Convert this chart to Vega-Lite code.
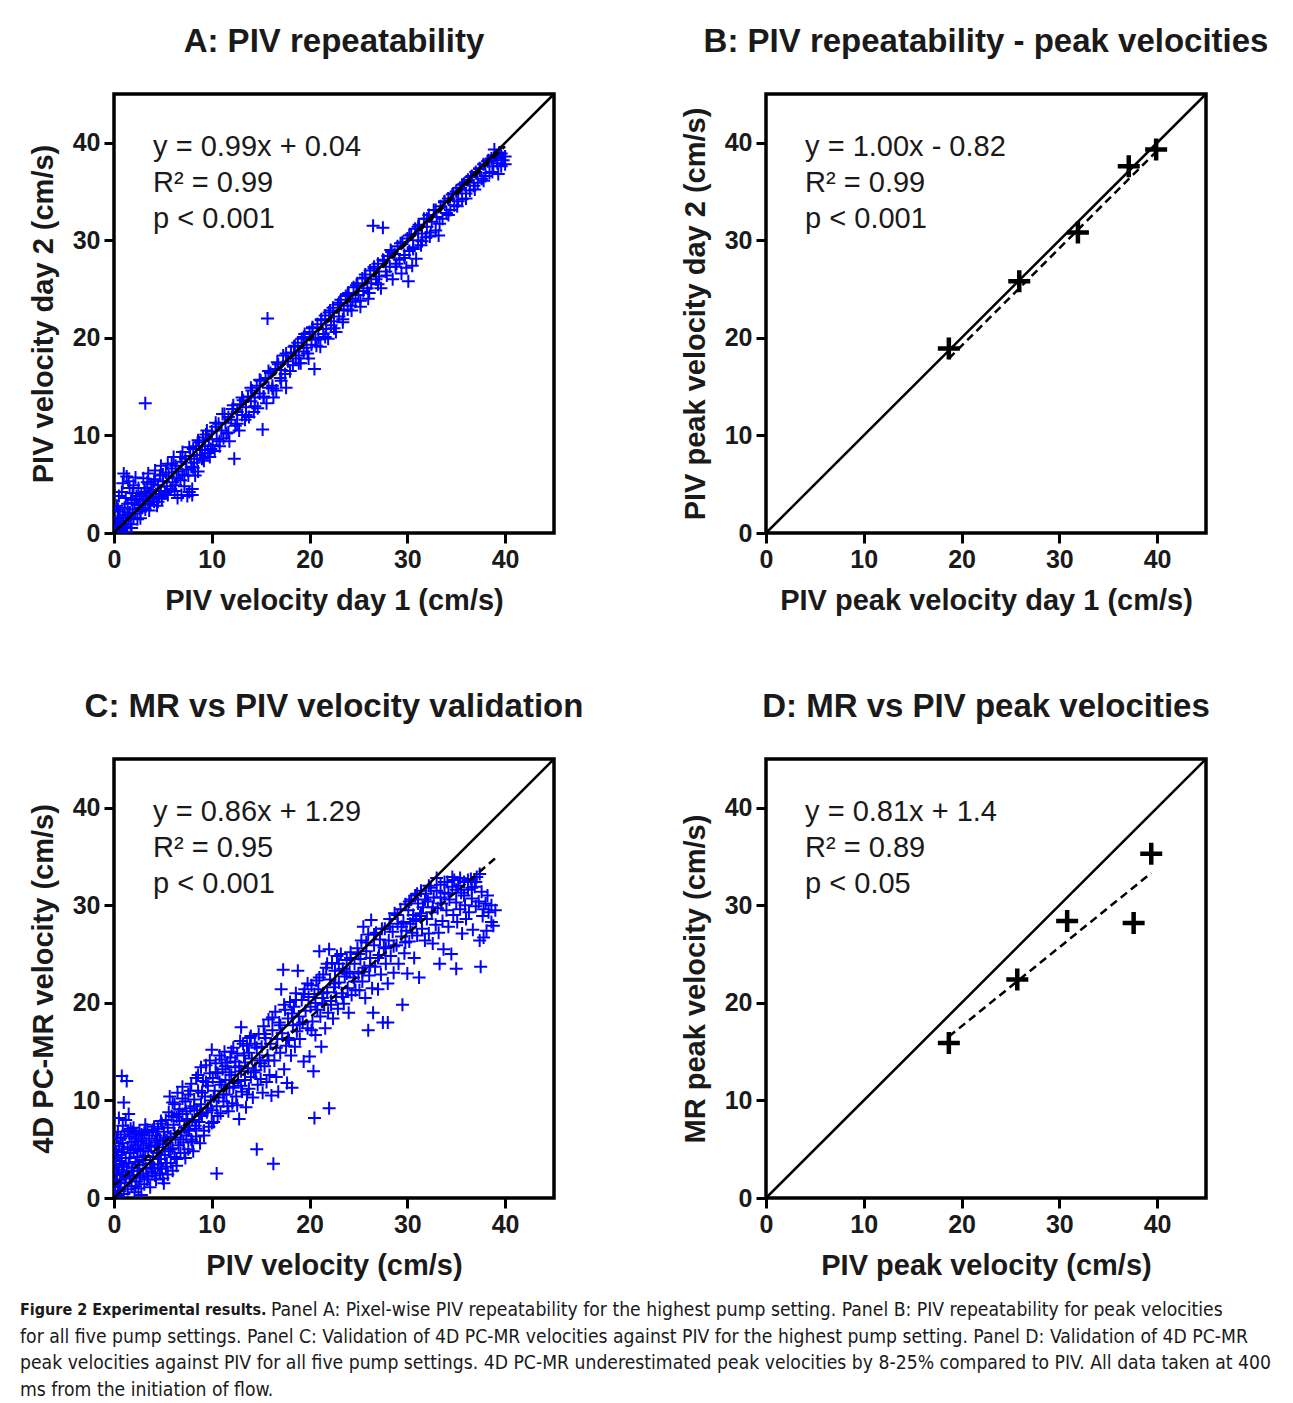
{
  "$schema": "https://vega.github.io/schema/vega-lite/v6.json",
  "background": "white",
  "padding": {"left": 20, "top": 24, "right": 10, "bottom": 5},
  "datasets": {
    "a": [
      {"x":0.1,"y":0.3},{"x":0.2,"y":0.8},{"x":0.3,"y":0.1},{"x":0.4,"y":1.5},{"x":0.5,"y":0.6},{"x":0.6,"y":2.2},{"x":0.7,"y":1.0},{"x":0.8,"y":0.3},{"x":0.9,"y":1.8},{"x":1.0,"y":0.7},{"x":1.1,"y":2.6},{"x":1.2,"y":1.3},{"x":1.3,"y":0.5},{"x":1.4,"y":3.0},{"x":1.5,"y":1.6},{"x":1.6,"y":2.1},{"x":1.7,"y":0.9},{"x":1.8,"y":3.4},{"x":1.9,"y":2.4},{"x":2.0,"y":1.5},{"x":2.1,"y":3.1},{"x":2.2,"y":2.0},{"x":2.3,"y":3.8},{"x":2.4,"y":1.4},{"x":2.5,"y":2.9},{"x":2.6,"y":3.5},{"x":2.7,"y":2.2},{"x":2.8,"y":4.0},{"x":2.9,"y":2.6},{"x":3.0,"y":3.3},{"x":0.3,"y":2.8},{"x":0.5,"y":3.8},{"x":1.0,"y":6.1},{"x":1.3,"y":5.8},{"x":0.8,"y":4.2},{"x":1.6,"y":4.6},{"x":2.0,"y":4.9},{"x":0.0,"y":0.0},{"x":0.2,"y":-0.3},{"x":0.6,"y":-0.2},{"x":1.1,"y":0.0},{"x":3.2,"y":13.3},
      {"x":3.1,"y":4.6},{"x":3.2,"y":2.4},{"x":3.3,"y":3.8},{"x":3.4,"y":5.2},{"x":3.5,"y":3.0},{"x":3.6,"y":4.1},{"x":3.7,"y":2.9},{"x":3.8,"y":5.0},{"x":3.9,"y":3.6},{"x":4.0,"y":4.4},{"x":4.1,"y":3.2},{"x":4.2,"y":5.5},{"x":4.3,"y":4.0},{"x":4.4,"y":2.8},{"x":4.5,"y":4.9},{"x":4.6,"y":3.7},{"x":4.7,"y":5.9},{"x":4.8,"y":4.3},{"x":4.9,"y":3.5},{"x":5.0,"y":5.3},{"x":5.2,"y":4.1},{"x":5.3,"y":6.2},{"x":5.4,"y":4.8},{"x":5.5,"y":3.9},{"x":5.6,"y":5.8},{"x":5.8,"y":4.5},{"x":5.9,"y":6.6},{"x":6.0,"y":5.2},{"x":6.2,"y":4.3},{"x":6.3,"y":6.9},{"x":6.4,"y":5.6},{"x":6.5,"y":3.6},{"x":6.6,"y":6.3},{"x":6.8,"y":5.4},{"x":6.9,"y":7.3},{"x":7.0,"y":6.0},{"x":7.2,"y":4.8},{"x":7.3,"y":7.6},{"x":7.4,"y":6.5},{"x":7.5,"y":3.8},{"x":7.6,"y":5.9},{"x":7.8,"y":7.9},{"x":7.9,"y":6.8},{"x":8.0,"y":4.5},{"x":8.0,"y":3.9},
      {"x":8.1,"y":8.6},{"x":8.2,"y":7.2},{"x":8.3,"y":5.9},{"x":8.4,"y":8.9},{"x":8.5,"y":7.6},{"x":8.6,"y":6.3},{"x":8.7,"y":9.3},{"x":8.8,"y":8.0},{"x":9.0,"y":8.5},{"x":9.1,"y":9.8},{"x":9.2,"y":7.4},{"x":9.3,"y":8.9},{"x":9.4,"y":10.1},{"x":9.6,"y":8.2},{"x":9.7,"y":9.6},{"x":9.8,"y":7.8},{"x":10.0,"y":10.4},{"x":10.1,"y":9.0},{"x":10.3,"y":8.4},{"x":10.4,"y":10.9},{"x":10.5,"y":9.6},{"x":10.7,"y":11.2},{"x":10.8,"y":8.9},{"x":11.0,"y":10.5},{"x":11.1,"y":12.2},{"x":11.2,"y":9.7},{"x":11.4,"y":11.3},{"x":11.5,"y":10.2},{"x":11.7,"y":11.9},{"x":11.8,"y":9.4},{"x":12.0,"y":11.6},{"x":12.1,"y":12.7},{"x":12.3,"y":7.6},{"x":12.4,"y":11.0},{"x":12.6,"y":12.4},{"x":12.8,"y":10.5},{"x":12.9,"y":13.2},
      {"x":13.1,"y":12.1},{"x":13.2,"y":13.6},{"x":13.4,"y":11.6},{"x":13.5,"y":12.9},{"x":13.7,"y":14.0},{"x":13.8,"y":11.9},{"x":14.0,"y":13.5},{"x":14.1,"y":14.6},{"x":14.3,"y":12.4},{"x":14.4,"y":13.9},{"x":14.6,"y":15.1},{"x":14.7,"y":12.8},{"x":14.9,"y":14.3},{"x":15.0,"y":15.6},{"x":15.2,"y":10.6},{"x":15.3,"y":14.0},{"x":15.5,"y":15.9},{"x":15.6,"y":13.3},{"x":15.7,"y":22.0},{"x":15.8,"y":14.9},{"x":16.0,"y":16.4},{"x":16.2,"y":15.1},{"x":16.3,"y":13.9},{"x":16.5,"y":16.8},{"x":16.6,"y":14.6},{"x":16.8,"y":17.3},{"x":17.0,"y":15.9},{"x":17.1,"y":16.7},{"x":17.3,"y":18.2},{"x":17.5,"y":16.3},{"x":17.6,"y":14.9},{"x":17.8,"y":17.6},{"x":18.0,"y":16.6},
      {"x":18.1,"y":18.5},{"x":18.3,"y":17.2},{"x":18.4,"y":19.1},{"x":18.6,"y":17.9},{"x":18.8,"y":19.5},{"x":18.9,"y":18.2},{"x":19.1,"y":17.4},{"x":19.2,"y":19.9},{"x":19.4,"y":18.6},{"x":19.5,"y":20.4},{"x":19.7,"y":19.0},{"x":19.9,"y":17.9},{"x":20.0,"y":20.6},{"x":20.2,"y":19.3},{"x":20.3,"y":21.1},{"x":20.5,"y":16.8},{"x":20.6,"y":19.8},{"x":20.8,"y":21.4},{"x":20.9,"y":20.0},{"x":21.1,"y":19.1},{"x":21.2,"y":21.8},{"x":21.4,"y":20.4},{"x":21.6,"y":22.3},{"x":21.7,"y":20.9},{"x":21.9,"y":19.9},{"x":22.0,"y":22.6},{"x":22.2,"y":21.3},{"x":22.4,"y":23.1},{"x":22.5,"y":21.7},{"x":22.7,"y":20.6},{"x":22.9,"y":23.4},{"x":23.0,"y":22.2},{"x":23.2,"y":23.9},{"x":23.4,"y":21.6},{"x":23.5,"y":22.8},{"x":23.7,"y":24.3},{"x":23.9,"y":22.9},
      {"x":24.0,"y":24.6},{"x":24.2,"y":23.3},{"x":24.4,"y":24.0},{"x":24.5,"y":25.2},{"x":24.7,"y":23.7},{"x":24.9,"y":25.6},{"x":25.0,"y":24.4},{"x":25.2,"y":23.2},{"x":25.4,"y":26.1},{"x":25.5,"y":24.8},{"x":25.7,"y":26.5},{"x":25.9,"y":25.1},{"x":26.0,"y":24.0},{"x":26.2,"y":26.9},{"x":26.3,"y":25.6},{"x":26.5,"y":31.5},{"x":26.6,"y":27.3},{"x":26.8,"y":26.0},{"x":27.0,"y":27.6},{"x":27.1,"y":26.3},{"x":27.3,"y":25.1},{"x":27.5,"y":31.3},{"x":27.6,"y":27.9},{"x":27.8,"y":26.8},{"x":28.0,"y":28.4},{"x":28.2,"y":27.3},{"x":28.3,"y":29.0},{"x":28.5,"y":26.0},{"x":28.7,"y":28.6},{"x":28.9,"y":27.6},{"x":29.0,"y":29.4},{"x":29.2,"y":28.0},{"x":29.4,"y":26.6},{"x":29.5,"y":29.8},{"x":29.7,"y":28.5},{"x":29.9,"y":27.2},
      {"x":30.0,"y":30.2},{"x":30.1,"y":25.8},{"x":30.2,"y":28.9},{"x":30.4,"y":30.6},{"x":30.5,"y":27.4},{"x":30.6,"y":29.3},{"x":30.8,"y":31.2},{"x":30.9,"y":28.1},{"x":31.1,"y":30.0},{"x":31.2,"y":31.6},{"x":31.4,"y":29.5},{"x":31.5,"y":30.7},{"x":31.7,"y":32.2},{"x":31.9,"y":30.3},{"x":32.0,"y":31.4},{"x":32.2,"y":32.6},{"x":32.3,"y":30.4},{"x":32.5,"y":31.9},{"x":32.7,"y":33.1},{"x":32.9,"y":31.0},{"x":33.0,"y":32.4},{"x":33.2,"y":30.5},{"x":33.4,"y":33.5},{"x":33.6,"y":32.2},{"x":33.8,"y":33.9},{"x":34.0,"y":32.8},{"x":34.2,"y":34.3},{"x":34.4,"y":33.1},{"x":34.6,"y":34.7},{"x":34.8,"y":33.6},{"x":35.0,"y":35.0},{"x":35.2,"y":34.0},{"x":35.4,"y":35.4},{"x":35.6,"y":34.2},{"x":35.8,"y":35.8},{"x":36.0,"y":34.8},{"x":36.2,"y":36.2},{"x":36.4,"y":35.1},{"x":36.6,"y":36.6},{"x":36.8,"y":35.6},{"x":37.0,"y":37.0},{"x":37.2,"y":35.9},{"x":37.4,"y":37.4},{"x":37.6,"y":36.3},{"x":37.8,"y":37.8},{"x":38.0,"y":36.6},{"x":38.2,"y":38.1},{"x":38.4,"y":36.9},{"x":38.6,"y":38.4},{"x":38.8,"y":37.6},{"x":39.0,"y":38.7},{"x":39.2,"y":37.9},{"x":39.4,"y":39.0},{"x":39.6,"y":37.6},{"x":39.8,"y":38.2},{"x":40.0,"y":37.8},{"x":38.9,"y":39.3},{"x":39.3,"y":36.8},
      {"x":0.5,"y":1.6},{"x":0.9,"y":0.1},{"x":1.4,"y":1.9},{"x":1.8,"y":0.5},{"x":2.3,"y":3.4},{"x":2.7,"y":1.5},{"x":3.2,"y":4.2},{"x":3.6,"y":2.3},{"x":4.1,"y":5.3},{"x":4.5,"y":3.2},{"x":5.0,"y":6.0},{"x":5.4,"y":4.2},{"x":5.9,"y":7.1},{"x":6.3,"y":4.9},{"x":6.8,"y":7.8},{"x":7.2,"y":5.9},{"x":7.7,"y":8.8},{"x":8.1,"y":6.7},{"x":8.6,"y":9.5},{"x":9.0,"y":7.6},{"x":9.5,"y":10.5},{"x":9.9,"y":8.6},{"x":10.4,"y":11.3},{"x":10.8,"y":9.4},{"x":11.3,"y":12.2},{"x":11.7,"y":10.3},{"x":12.2,"y":13.1},{"x":12.6,"y":11.2},{"x":13.1,"y":13.9},{"x":13.5,"y":12.1},{"x":14.0,"y":14.9},{"x":14.4,"y":13.0},{"x":14.9,"y":15.7},{"x":15.3,"y":13.9},{"x":15.8,"y":16.6},{"x":16.2,"y":14.8},{"x":16.7,"y":17.5},{"x":17.1,"y":15.6},{"x":17.6,"y":18.4},{"x":18.0,"y":16.6},{"x":18.5,"y":19.2},{"x":18.9,"y":17.4},{"x":19.4,"y":20.1},{"x":19.8,"y":18.4},{"x":20.3,"y":21.0},{"x":20.7,"y":19.2},{"x":21.2,"y":21.9},{"x":21.6,"y":20.1},{"x":22.1,"y":22.8},{"x":22.5,"y":21.0},{"x":23.0,"y":23.6},{"x":23.4,"y":21.9},{"x":23.9,"y":24.5},{"x":24.3,"y":22.8},{"x":24.8,"y":25.4},{"x":25.2,"y":23.8},{"x":25.7,"y":26.2},{"x":26.1,"y":24.6},{"x":26.6,"y":27.1},{"x":27.0,"y":25.5},{"x":27.5,"y":28.0},{"x":27.9,"y":26.4},{"x":28.4,"y":28.8},{"x":28.8,"y":27.3},{"x":29.3,"y":29.7},{"x":29.7,"y":28.2},{"x":30.2,"y":30.5},{"x":30.6,"y":29.1},{"x":31.1,"y":31.4},{"x":31.5,"y":29.9},{"x":32.0,"y":32.2},{"x":32.4,"y":30.8},{"x":32.9,"y":33.1},{"x":33.3,"y":31.7},{"x":33.8,"y":34.0},{"x":34.2,"y":32.6},{"x":34.7,"y":34.8},{"x":35.1,"y":33.5},{"x":35.6,"y":35.7},{"x":36.0,"y":34.3},{"x":36.5,"y":36.5},{"x":36.9,"y":35.2},{"x":37.4,"y":37.3},{"x":37.8,"y":36.1},{"x":38.3,"y":38.2},{"x":38.7,"y":37.0},{"x":39.2,"y":38.4},{"x":39.6,"y":38.9},{"x":40.0,"y":38.6},
      {"x":0.4,"y":2.4},{"x":1.2,"y":3.6},{"x":1.9,"y":4.1},{"x":2.5,"y":4.6},{"x":3.0,"y":5.6},{"x":3.5,"y":6.1},{"x":4.2,"y":6.4},{"x":0.9,"y":5.1},{"x":1.5,"y":5.3},{"x":2.2,"y":5.7},{"x":4.8,"y":6.9},{"x":5.5,"y":7.1},{"x":6.1,"y":7.8},{"x":7.0,"y":8.3},{"x":7.7,"y":4.2},{"x":6.9,"y":3.9}
    ],
    "c": [
      {"x":0.1,"y":0.5},{"x":0.2,"y":1.8},{"x":0.2,"y":3.5},{"x":0.3,"y":0.2},{"x":0.3,"y":2.6},{"x":0.4,"y":4.4},{"x":0.4,"y":1.1},{"x":0.5,"y":5.3},{"x":0.5,"y":2.9},{"x":0.6,"y":0.7},{"x":0.6,"y":3.8},{"x":0.7,"y":6.1},{"x":0.7,"y":1.9},{"x":0.8,"y":4.7},{"x":0.8,"y":12.5},{"x":0.9,"y":2.4},{"x":0.9,"y":5.6},{"x":1.0,"y":0.4},{"x":1.0,"y":3.2},{"x":1.0,"y":9.8},{"x":1.1,"y":6.5},{"x":1.1,"y":1.6},{"x":1.2,"y":4.1},{"x":1.2,"y":8.0},{"x":1.3,"y":2.7},{"x":1.3,"y":12.0},{"x":1.4,"y":5.2},{"x":1.4,"y":0.9},{"x":1.5,"y":3.6},{"x":1.5,"y":8.6},{"x":1.6,"y":6.3},{"x":1.6,"y":2.0},{"x":1.7,"y":4.6},{"x":1.7,"y":7.1},{"x":1.8,"y":1.2},{"x":1.8,"y":5.7},{"x":1.9,"y":3.1},{"x":1.9,"y":6.8},{"x":2.0,"y":2.3},{"x":2.0,"y":4.9},{"x":2.1,"y":0.6},{"x":2.1,"y":6.1},{"x":2.2,"y":3.7},{"x":2.2,"y":5.4},{"x":2.3,"y":1.7},{"x":2.3,"y":6.6},{"x":2.4,"y":4.2},{"x":2.4,"y":2.8},{"x":2.5,"y":5.8},{"x":2.5,"y":1.0},{"x":2.6,"y":3.4},{"x":2.6,"y":6.9},{"x":2.7,"y":2.1},{"x":2.7,"y":4.8},{"x":2.8,"y":5.9},{"x":2.8,"y":0.3},{"x":2.9,"y":3.9},{"x":2.9,"y":6.4},{"x":3.0,"y":2.5},{"x":3.0,"y":5.1},{"x":0.5,"y":8.2},{"x":0.9,"y":7.4},{"x":0.3,"y":6.2},
      {"x":3.1,"y":6.7},{"x":3.1,"y":1.4},{"x":3.2,"y":4.3},{"x":3.3,"y":3.0},{"x":3.3,"y":5.6},{"x":3.4,"y":7.0},{"x":3.5,"y":2.2},{"x":3.5,"y":4.8},{"x":3.6,"y":6.1},{"x":3.7,"y":3.5},{"x":3.7,"y":1.1},{"x":3.8,"y":5.3},{"x":3.9,"y":6.8},{"x":3.9,"y":2.7},{"x":4.0,"y":4.2},{"x":4.1,"y":7.3},{"x":4.1,"y":3.1},{"x":4.2,"y":5.7},{"x":4.3,"y":1.9},{"x":4.3,"y":6.4},{"x":4.4,"y":4.6},{"x":4.5,"y":3.4},{"x":4.5,"y":7.1},{"x":4.6,"y":5.2},{"x":4.7,"y":2.5},{"x":4.7,"y":6.0},{"x":4.8,"y":4.0},{"x":4.9,"y":7.6},{"x":4.9,"y":3.0},{"x":5.0,"y":5.5},{"x":5.1,"y":1.5},{"x":5.1,"y":6.8},{"x":5.2,"y":4.4},{"x":5.3,"y":3.2},{"x":5.3,"y":8.0},{"x":5.4,"y":5.9},{"x":5.5,"y":2.4},{"x":5.5,"y":7.2},{"x":5.6,"y":4.8},{"x":5.7,"y":10.4},{"x":5.8,"y":6.3},{"x":5.8,"y":3.6},{"x":5.9,"y":8.4},{"x":6.0,"y":5.1},{"x":6.0,"y":2.8},
      {"x":6.1,"y":7.5},{"x":6.2,"y":9.6},{"x":6.2,"y":4.2},{"x":6.3,"y":6.2},{"x":6.4,"y":8.3},{"x":6.4,"y":3.3},{"x":6.5,"y":10.8},{"x":6.6,"y":5.4},{"x":6.7,"y":7.9},{"x":6.7,"y":9.1},{"x":6.8,"y":4.6},{"x":6.9,"y":6.8},{"x":7.0,"y":8.6},{"x":7.0,"y":11.4},{"x":7.1,"y":5.7},{"x":7.2,"y":7.2},{"x":7.3,"y":9.9},{"x":7.3,"y":4.1},{"x":7.4,"y":6.4},{"x":7.5,"y":8.1},{"x":7.6,"y":10.6},{"x":7.6,"y":5.0},{"x":7.7,"y":7.0},{"x":7.8,"y":9.2},{"x":7.9,"y":11.7},{"x":7.9,"y":6.0},{"x":8.0,"y":8.0},{"x":8.1,"y":4.8},{"x":8.2,"y":10.1},{"x":8.3,"y":7.4},{"x":8.4,"y":12.3},{"x":8.4,"y":6.3},{"x":8.5,"y":9.0},{"x":8.6,"y":11.0},{"x":8.7,"y":7.8},{"x":8.8,"y":5.6},{"x":8.9,"y":13.4},{"x":8.9,"y":9.6},{"x":9.0,"y":8.4},{"x":9.1,"y":12.0},{"x":9.2,"y":6.9},{"x":9.3,"y":10.4},{"x":9.4,"y":13.6},{"x":9.5,"y":8.8},{"x":9.6,"y":11.5},{"x":9.7,"y":7.3},{"x":9.8,"y":14.1},{"x":9.9,"y":10.0},{"x":10.0,"y":9.0},{"x":10.0,"y":15.2},
      {"x":10.1,"y":12.3},{"x":10.2,"y":7.8},{"x":10.3,"y":11.0},{"x":10.4,"y":13.8},{"x":10.5,"y":2.5},{"x":10.5,"y":9.4},{"x":10.6,"y":12.8},{"x":10.7,"y":10.3},{"x":10.8,"y":14.6},{"x":10.9,"y":8.7},{"x":11.0,"y":11.6},{"x":11.1,"y":13.2},{"x":11.2,"y":9.9},{"x":11.3,"y":15.0},{"x":11.4,"y":12.1},{"x":11.5,"y":10.6},{"x":11.6,"y":13.9},{"x":11.7,"y":8.9},{"x":11.8,"y":11.4},{"x":11.9,"y":14.4},{"x":12.0,"y":12.6},{"x":12.1,"y":9.7},{"x":12.2,"y":15.4},{"x":12.3,"y":11.8},{"x":12.4,"y":13.4},{"x":12.5,"y":10.4},{"x":12.6,"y":14.8},{"x":12.7,"y":12.0},{"x":12.8,"y":8.1},{"x":12.9,"y":16.1},{"x":13.0,"y":13.0},{"x":13.0,"y":17.5},{"x":13.1,"y":10.9},{"x":13.3,"y":14.6},{"x":13.4,"y":12.1},{"x":13.5,"y":9.3},{"x":13.6,"y":15.6},{"x":13.7,"y":13.3},{"x":13.8,"y":11.2},{"x":13.9,"y":16.4},{"x":14.0,"y":12.4},{"x":14.1,"y":14.3},{"x":14.2,"y":10.3},{"x":14.4,"y":15.8},{"x":14.5,"y":13.1},{"x":14.6,"y":5.0},{"x":14.7,"y":11.6},{"x":14.8,"y":16.8},{"x":14.9,"y":14.1},{"x":15.0,"y":12.2},
      {"x":15.1,"y":15.5},{"x":15.2,"y":10.8},{"x":15.3,"y":17.6},{"x":15.4,"y":13.5},{"x":15.5,"y":16.4},{"x":15.6,"y":11.9},{"x":15.7,"y":14.6},{"x":15.8,"y":18.3},{"x":15.9,"y":12.6},{"x":16.0,"y":15.8},{"x":16.1,"y":10.5},{"x":16.2,"y":17.2},{"x":16.3,"y":3.5},{"x":16.4,"y":14.1},{"x":16.5,"y":19.1},{"x":16.6,"y":12.4},{"x":16.7,"y":16.3},{"x":16.8,"y":10.9},{"x":16.9,"y":18.0},{"x":17.0,"y":14.9},{"x":17.1,"y":21.4},{"x":17.2,"y":16.9},{"x":17.3,"y":23.4},{"x":17.4,"y":13.2},{"x":17.5,"y":19.3},{"x":17.6,"y":15.6},{"x":17.7,"y":11.8},{"x":17.8,"y":18.4},{"x":17.9,"y":16.2},{"x":18.0,"y":20.1},{"x":18.1,"y":14.6},{"x":18.2,"y":11.3},{"x":18.3,"y":17.7},{"x":18.4,"y":19.6},{"x":18.5,"y":15.5},{"x":18.6,"y":21.0},{"x":18.7,"y":17.1},{"x":18.8,"y":23.3},{"x":18.9,"y":18.6},{"x":19.0,"y":16.3},{"x":19.2,"y":20.3},{"x":19.3,"y":18.0},{"x":19.4,"y":14.0},{"x":19.5,"y":21.4},{"x":19.6,"y":19.2},{"x":19.8,"y":17.4},{"x":19.9,"y":20.6},{"x":20.0,"y":14.5},
      {"x":20.1,"y":19.6},{"x":20.2,"y":21.8},{"x":20.3,"y":18.1},{"x":20.4,"y":13.0},{"x":20.5,"y":20.9},{"x":20.5,"y":8.2},{"x":20.6,"y":16.7},{"x":20.7,"y":22.3},{"x":20.8,"y":19.3},{"x":20.9,"y":21.4},{"x":21.0,"y":25.3},{"x":21.1,"y":18.6},{"x":21.2,"y":15.5},{"x":21.3,"y":20.5},{"x":21.4,"y":22.9},{"x":21.5,"y":19.8},{"x":21.6,"y":17.4},{"x":21.7,"y":23.6},{"x":21.8,"y":21.1},{"x":21.9,"y":19.0},{"x":22.0,"y":25.5},{"x":22.0,"y":9.2},{"x":22.1,"y":22.4},{"x":22.2,"y":20.2},{"x":22.3,"y":24.1},{"x":22.4,"y":18.4},{"x":22.5,"y":21.6},{"x":22.6,"y":23.3},{"x":22.7,"y":20.6},{"x":22.8,"y":24.8},{"x":22.9,"y":19.4},{"x":23.0,"y":22.1},{"x":23.2,"y":25.0},{"x":23.3,"y":21.0},{"x":23.4,"y":23.5},{"x":23.5,"y":19.9},{"x":23.6,"y":22.7},{"x":23.8,"y":24.4},{"x":23.9,"y":21.5},{"x":24.0,"y":19.0},{"x":24.1,"y":23.2},{"x":24.2,"y":25.2},{"x":24.3,"y":20.8},{"x":24.5,"y":22.6},{"x":24.6,"y":24.0},{"x":24.7,"y":21.3},{"x":24.9,"y":25.6},{"x":25.0,"y":23.0},
      {"x":25.1,"y":21.3},{"x":25.2,"y":24.5},{"x":25.3,"y":26.4},{"x":25.4,"y":22.2},{"x":25.5,"y":27.8},{"x":25.6,"y":23.6},{"x":25.7,"y":20.5},{"x":25.8,"y":25.3},{"x":26.0,"y":17.2},{"x":26.0,"y":27.0},{"x":26.1,"y":22.8},{"x":26.2,"y":24.6},{"x":26.3,"y":28.5},{"x":26.4,"y":21.5},{"x":26.5,"y":19.0},{"x":26.6,"y":25.9},{"x":26.7,"y":23.7},{"x":26.8,"y":27.2},{"x":27.0,"y":21.4},{"x":27.1,"y":24.9},{"x":27.2,"y":26.5},{"x":27.3,"y":22.9},{"x":27.5,"y":18.0},{"x":27.6,"y":25.7},{"x":27.7,"y":27.6},{"x":27.8,"y":24.0},{"x":28.0,"y":18.0},{"x":28.0,"y":22.0},{"x":28.1,"y":26.4},{"x":28.2,"y":28.6},{"x":28.3,"y":24.8},{"x":28.5,"y":27.3},{"x":28.6,"y":23.1},{"x":28.7,"y":29.2},{"x":28.9,"y":25.9},{"x":29.0,"y":28.1},{"x":29.1,"y":24.0},{"x":29.3,"y":29.6},{"x":29.4,"y":26.8},{"x":29.5,"y":19.8},{"x":29.6,"y":28.3},{"x":29.7,"y":25.1},{"x":29.8,"y":30.1},{"x":29.9,"y":27.4},{"x":30.0,"y":23.0},
      {"x":30.1,"y":29.5},{"x":30.2,"y":26.3},{"x":30.3,"y":28.1},{"x":30.4,"y":30.6},{"x":30.5,"y":27.2},{"x":30.6,"y":29.0},{"x":30.7,"y":24.6},{"x":30.8,"y":31.0},{"x":30.9,"y":28.4},{"x":31.0,"y":26.9},{"x":31.1,"y":30.2},{"x":31.2,"y":22.6},{"x":31.3,"y":28.9},{"x":31.4,"y":31.5},{"x":31.5,"y":27.6},{"x":31.6,"y":29.8},{"x":31.8,"y":26.4},{"x":31.9,"y":31.2},{"x":32.0,"y":28.6},{"x":32.1,"y":30.4},{"x":32.2,"y":27.1},{"x":32.4,"y":31.8},{"x":32.5,"y":29.3},{"x":32.6,"y":26.1},{"x":32.7,"y":30.8},{"x":32.9,"y":28.0},{"x":33.0,"y":31.5},{"x":33.1,"y":29.7},{"x":33.2,"y":27.2},{"x":33.3,"y":24.0},{"x":33.4,"y":32.1},{"x":33.5,"y":30.2},{"x":33.6,"y":28.4},{"x":33.7,"y":25.5},{"x":33.8,"y":31.3},{"x":34.0,"y":29.5},{"x":34.1,"y":32.4},{"x":34.2,"y":27.8},{"x":34.3,"y":30.6},{"x":34.5,"y":25.0},{"x":34.6,"y":31.9},{"x":34.7,"y":29.0},{"x":34.8,"y":32.6},{"x":35.0,"y":23.5},{"x":35.0,"y":30.3},{"x":35.1,"y":28.3},{"x":35.2,"y":32.0},{"x":35.4,"y":29.6},{"x":35.5,"y":31.3},{"x":35.6,"y":27.1},{"x":35.8,"y":32.4},{"x":35.9,"y":30.0},{"x":36.0,"y":28.6},{"x":36.2,"y":31.6},{"x":36.3,"y":29.3},{"x":36.5,"y":32.7},{"x":36.6,"y":30.7},{"x":36.7,"y":27.5},{"x":36.9,"y":31.9},{"x":37.0,"y":29.9},{"x":37.1,"y":32.9},{"x":37.3,"y":30.4},{"x":37.4,"y":26.4},{"x":37.5,"y":23.7},{"x":37.6,"y":31.4},{"x":37.7,"y":28.9},{"x":37.8,"y":26.7},{"x":38.0,"y":30.2},{"x":38.1,"y":27.4},{"x":38.3,"y":29.3},{"x":38.6,"y":28.3},{"x":39.0,"y":29.5},{"x":38.8,"y":27.9},
      {"x":0.2,"y":4.8},{"x":0.4,"y":6.8},{"x":0.6,"y":1.5},{"x":0.8,"y":3.4},{"x":1.0,"y":5.0},{"x":1.2,"y":2.2},{"x":1.4,"y":6.9},{"x":1.6,"y":4.1},{"x":1.8,"y":2.8},{"x":2.0,"y":7.2},{"x":2.2,"y":1.2},{"x":2.4,"y":5.0},{"x":2.6,"y":2.3},{"x":2.8,"y":6.5},{"x":3.0,"y":3.9},{"x":3.2,"y":7.5},{"x":3.4,"y":1.9},{"x":3.6,"y":5.4},{"x":3.8,"y":3.1},{"x":4.0,"y":7.0},{"x":4.2,"y":2.3},{"x":4.4,"y":5.9},{"x":4.6,"y":4.0},{"x":4.8,"y":7.9},{"x":5.0,"y":2.0},{"x":5.2,"y":6.2},{"x":5.4,"y":3.6},{"x":5.6,"y":8.8},{"x":5.8,"y":5.0},{"x":6.0,"y":9.8},{"x":6.2,"y":6.6},{"x":6.4,"y":4.0},{"x":6.6,"y":8.6},{"x":6.8,"y":6.0},{"x":7.0,"y":10.2},{"x":7.2,"y":4.6},{"x":7.4,"y":8.9},{"x":7.6,"y":6.9},{"x":7.8,"y":11.0},{"x":8.0,"y":5.8},{"x":8.2,"y":9.4},{"x":8.4,"y":7.1},{"x":8.6,"y":12.6},{"x":8.8,"y":8.6},{"x":9.0,"y":10.8},{"x":9.2,"y":6.4},{"x":9.4,"y":11.9},{"x":9.6,"y":9.2},{"x":9.8,"y":12.8},{"x":10.0,"y":7.7},{"x":10.2,"y":10.4},{"x":10.4,"y":12.9},{"x":10.6,"y":8.4},{"x":10.8,"y":11.9},{"x":11.0,"y":14.2},{"x":11.2,"y":10.6},{"x":11.4,"y":13.5},{"x":11.6,"y":9.4},{"x":11.8,"y":12.9},{"x":12.0,"y":15.0},{"x":12.2,"y":11.3},{"x":12.4,"y":14.0},{"x":12.6,"y":9.5},{"x":12.8,"y":13.5},{"x":13.0,"y":11.5},{"x":13.2,"y":15.8},{"x":13.4,"y":13.9},{"x":13.6,"y":10.6},{"x":13.8,"y":14.9},{"x":14.0,"y":16.6},{"x":14.3,"y":12.9},{"x":14.6,"y":15.4},{"x":15.0,"y":13.8},{"x":15.4,"y":16.8},{"x":15.8,"y":14.1},{"x":16.2,"y":18.5},{"x":16.6,"y":15.4},{"x":17.0,"y":17.7},{"x":17.4,"y":19.8},{"x":17.8,"y":16.4},{"x":18.2,"y":18.9},{"x":18.6,"y":20.3},{"x":19.0,"y":17.8},{"x":19.4,"y":20.9},{"x":19.8,"y":22.0},{"x":20.2,"y":17.2},{"x":20.6,"y":20.0},{"x":21.0,"y":22.6},{"x":21.4,"y":21.0},{"x":21.8,"y":24.0},{"x":22.2,"y":19.8},{"x":22.6,"y":22.0},{"x":23.0,"y":24.0},{"x":23.4,"y":20.6},{"x":23.8,"y":23.0},{"x":24.2,"y":24.6},{"x":24.6,"y":22.2},{"x":25.0,"y":25.0},{"x":25.4,"y":23.2},{"x":25.8,"y":26.2},{"x":26.2,"y":23.8},{"x":26.6,"y":27.0},{"x":27.0,"y":24.6},{"x":27.4,"y":27.6},{"x":27.8,"y":25.6},{"x":28.2,"y":27.8},{"x":28.6,"y":25.8},{"x":29.0,"y":29.0},{"x":29.4,"y":27.8},{"x":29.8,"y":26.2},{"x":30.2,"y":30.4},{"x":30.6,"y":28.6},{"x":31.0,"y":31.2},{"x":31.4,"y":29.2},{"x":31.8,"y":30.6},{"x":32.2,"y":32.0},{"x":32.6,"y":29.8},{"x":33.0,"y":32.8},{"x":33.4,"y":30.8},{"x":33.8,"y":32.4},{"x":34.2,"y":31.2},{"x":34.6,"y":32.9},{"x":35.0,"y":31.6},{"x":35.4,"y":32.8},{"x":35.8,"y":31.0},{"x":36.2,"y":32.6},{"x":36.6,"y":31.8},{"x":37.0,"y":32.4},{"x":37.4,"y":33.2},{"x":37.8,"y":29.6},{"x":38.2,"y":31.0},{"x":38.6,"y":30.0}
    ],
    "b": [{"x":18.7,"y":18.9},{"x":25.9,"y":25.8},{"x":31.9,"y":30.8},{"x":37.1,"y":37.6},{"x":39.9,"y":39.3}],
    "d": [{"x":18.7,"y":15.9},{"x":25.7,"y":22.4},{"x":30.8,"y":28.4},{"x":37.6,"y":28.2},{"x":39.4,"y":35.3}],
    "diag": [{"x":0,"y":0},{"x":45,"y":45}],
    "regA": [{"x":0,"y":0.04},{"x":40,"y":39.64}],
    "regB": [{"x":18.7,"y":17.88},{"x":39.8,"y":38.98}],
    "regC": [{"x":0,"y":1.29},{"x":39,"y":34.83}],
    "regD": [{"x":18.7,"y":16.55},{"x":39.4,"y":33.31}],
    "noteA": [{"label":"y = 0.99x + 0.04|R² = 0.99|p < 0.001"}],
    "noteB": [{"label":"y = 1.00x - 0.82|R² = 0.99|p < 0.001"}],
    "noteC": [{"label":"y = 0.86x + 1.29|R² = 0.95|p < 0.001"}],
    "noteD": [{"label":"y = 0.81x + 1.4|R² = 0.89|p < 0.05"}],
    "capBold": [{"line":1,"text":"Figure 2 Experimental results."}],
    "capFirst": [{"line":1,"text":"Panel A: Pixel-wise PIV repeatability for the highest pump setting. Panel B: PIV repeatability for peak velocities"}],
    "capRest": [
      {"line":2,"text":"for all five pump settings. Panel C: Validation of 4D PC-MR velocities against PIV for the highest pump setting. Panel D: Validation of 4D PC-MR"},
      {"line":3,"text":"peak velocities against PIV for all five pump settings. 4D PC-MR underestimated peak velocities by 8-25% compared to PIV. All data taken at 400"},
      {"line":4,"text":"ms from the initiation of flow."}
    ]
  },
  "vconcat": [
    {
      "concat": [
        {
          "width": 440, "height": 439,
          "title": "A: PIV repeatability",
          "layer": [
            {"data": {"name": "a"}, "mark": {"type": "point", "shape": "M-1,0H1M0,-1V1", "filled": false, "stroke": "#0000ff", "strokeWidth": 2, "size": 169, "opacity": 1, "clip": true},
             "encoding": {
               "x": {"field": "x", "type": "quantitative", "scale": {"domain": [0, 45], "nice": false, "zero": false}, "axis": {"title": "PIV velocity day 1 (cm/s)", "values": [0, 10, 20, 30, 40]}},
               "y": {"field": "y", "type": "quantitative", "scale": {"domain": [0, 45], "nice": false, "zero": false}, "axis": {"title": "PIV velocity day 2 (cm/s)", "values": [0, 10, 20, 30, 40]}}
             }},
            {"data": {"name": "diag"}, "mark": {"type": "line", "color": "black", "strokeWidth": 2.5}, "encoding": {"x": {"field": "x", "type": "quantitative"}, "y": {"field": "y", "type": "quantitative"}}},
            {"data": {"name": "regA"}, "mark": {"type": "line", "color": "black", "strokeWidth": 2.5, "strokeDash": [8, 5]}, "encoding": {"x": {"field": "x", "type": "quantitative"}, "y": {"field": "y", "type": "quantitative"}}},
            {"data": {"name": "noteA"}, "mark": {"type": "text", "align": "left", "baseline": "top", "lineBreak": "|", "lineHeight": 36, "font": "Liberation Sans", "fontSize": 29, "fill": "#1a1a1a"},
             "encoding": {"x": {"datum": 4}, "y": {"datum": 41}, "text": {"field": "label", "type": "nominal"}}}
          ]
        },
        {
          "width": 440, "height": 439,
          "title": "B: PIV repeatability - peak velocities",
          "layer": [
            {"data": {"name": "diag"}, "mark": {"type": "line", "color": "black", "strokeWidth": 2.5},
             "encoding": {
               "x": {"field": "x", "type": "quantitative", "scale": {"domain": [0, 45], "nice": false, "zero": false}, "axis": {"title": "PIV peak velocity day 1 (cm/s)", "values": [0, 10, 20, 30, 40]}},
               "y": {"field": "y", "type": "quantitative", "scale": {"domain": [0, 45], "nice": false, "zero": false}, "axis": {"title": "PIV peak velocity day 2 (cm/s)", "values": [0, 10, 20, 30, 40]}}
             }},
            {"data": {"name": "regB"}, "mark": {"type": "line", "color": "black", "strokeWidth": 2.5, "strokeDash": [8, 5]}, "encoding": {"x": {"field": "x", "type": "quantitative"}, "y": {"field": "y", "type": "quantitative"}}},
            {"data": {"name": "b"}, "mark": {"type": "point", "shape": "M-1,0H1M0,-1V1", "filled": false, "stroke": "black", "strokeWidth": 4.5, "size": 484, "opacity": 1}, "encoding": {"x": {"field": "x", "type": "quantitative"}, "y": {"field": "y", "type": "quantitative"}}},
            {"data": {"name": "noteB"}, "mark": {"type": "text", "align": "left", "baseline": "top", "lineBreak": "|", "lineHeight": 36, "font": "Liberation Sans", "fontSize": 29, "fill": "#1a1a1a"},
             "encoding": {"x": {"datum": 4}, "y": {"datum": 41}, "text": {"field": "label", "type": "nominal"}}}
          ]
        },
        {
          "width": 440, "height": 439,
          "title": "C: MR vs PIV velocity validation",
          "layer": [
            {"data": {"name": "c"}, "mark": {"type": "point", "shape": "M-1,0H1M0,-1V1", "filled": false, "stroke": "#0000ff", "strokeWidth": 2, "size": 169, "opacity": 1, "clip": true},
             "encoding": {
               "x": {"field": "x", "type": "quantitative", "scale": {"domain": [0, 45], "nice": false, "zero": false}, "axis": {"title": "PIV velocity (cm/s)", "values": [0, 10, 20, 30, 40]}},
               "y": {"field": "y", "type": "quantitative", "scale": {"domain": [0, 45], "nice": false, "zero": false}, "axis": {"title": "4D PC-MR velocity (cm/s)", "values": [0, 10, 20, 30, 40]}}
             }},
            {"data": {"name": "diag"}, "mark": {"type": "line", "color": "black", "strokeWidth": 2.5}, "encoding": {"x": {"field": "x", "type": "quantitative"}, "y": {"field": "y", "type": "quantitative"}}},
            {"data": {"name": "regC"}, "mark": {"type": "line", "color": "black", "strokeWidth": 2.5, "strokeDash": [8, 5]}, "encoding": {"x": {"field": "x", "type": "quantitative"}, "y": {"field": "y", "type": "quantitative"}}},
            {"data": {"name": "noteC"}, "mark": {"type": "text", "align": "left", "baseline": "top", "lineBreak": "|", "lineHeight": 36, "font": "Liberation Sans", "fontSize": 29, "fill": "#1a1a1a"},
             "encoding": {"x": {"datum": 4}, "y": {"datum": 41}, "text": {"field": "label", "type": "nominal"}}}
          ]
        },
        {
          "width": 440, "height": 439,
          "title": "D: MR vs PIV peak velocities",
          "layer": [
            {"data": {"name": "diag"}, "mark": {"type": "line", "color": "black", "strokeWidth": 2.5},
             "encoding": {
               "x": {"field": "x", "type": "quantitative", "scale": {"domain": [0, 45], "nice": false, "zero": false}, "axis": {"title": "PIV peak velocity (cm/s)", "values": [0, 10, 20, 30, 40]}},
               "y": {"field": "y", "type": "quantitative", "scale": {"domain": [0, 45], "nice": false, "zero": false}, "axis": {"title": "MR peak velocity (cm/s)", "values": [0, 10, 20, 30, 40]}}
             }},
            {"data": {"name": "regD"}, "mark": {"type": "line", "color": "black", "strokeWidth": 2.5, "strokeDash": [8, 5]}, "encoding": {"x": {"field": "x", "type": "quantitative"}, "y": {"field": "y", "type": "quantitative"}}},
            {"data": {"name": "d"}, "mark": {"type": "point", "shape": "M-1,0H1M0,-1V1", "filled": false, "stroke": "black", "strokeWidth": 4.5, "size": 484, "opacity": 1}, "encoding": {"x": {"field": "x", "type": "quantitative"}, "y": {"field": "y", "type": "quantitative"}}},
            {"data": {"name": "noteD"}, "mark": {"type": "text", "align": "left", "baseline": "top", "lineBreak": "|", "lineHeight": 36, "font": "Liberation Sans", "fontSize": 29, "fill": "#1a1a1a"},
             "encoding": {"x": {"datum": 4}, "y": {"datum": 41}, "text": {"field": "label", "type": "nominal"}}}
          ]
        }
      ],
      "columns": 2,
      "bounds": "flush",
      "spacing": {"row": 226, "column": 212}
    },
    {
      "width": 1258, "height": 106,
      "view": {"stroke": null},
      "encoding": {
        "x": {"datum": 0, "type": "quantitative", "scale": {"domain": [0, 1]}, "axis": null},
        "y": {"field": "line", "type": "ordinal", "scale": {"domain": [1, 2, 3, 4]}, "axis": null},
        "text": {"field": "text"}
      },
      "layer": [
        {"data": {"name": "capBold"}, "mark": {"type": "text", "align": "left", "baseline": "middle", "dx": -94, "font": "DejaVu Sans Condensed", "fontSize": 16, "fontWeight": "bold", "color": "#1a1a1a"}},
        {"data": {"name": "capFirst"}, "mark": {"type": "text", "align": "left", "baseline": "middle", "dx": 157, "font": "DejaVu Sans Condensed", "fontSize": 19.2, "color": "#1a1a1a"}},
        {"data": {"name": "capRest"}, "mark": {"type": "text", "align": "left", "baseline": "middle", "dx": -94, "font": "DejaVu Sans Condensed", "fontSize": 19.2, "color": "#1a1a1a"}}
      ]
    }
  ],
  "spacing": 15,
  "config": {
    "font": "Liberation Sans",
    "view": {"stroke": "black", "strokeWidth": 3.5},
    "axis": {
      "labelFont": "Liberation Sans", "labelFontWeight": "bold", "labelFontSize": 25, "labelColor": "#1a1a1a",
      "titleFont": "Liberation Sans", "titleFontWeight": "bold", "titleFontSize": 29, "titleColor": "#1a1a1a",
      "tickColor": "black", "tickWidth": 3, "tickSize": 10, "domain": false, "grid": false,
      "labelFlush": false, "labelOverlap": false
    },
    "axisX": {"labelPadding": 4, "titlePadding": 14},
    "axisY": {"labelPadding": 4, "titlePadding": 14},
    "title": {"font": "Liberation Sans", "fontSize": 33, "fontWeight": "bold", "color": "#1a1a1a", "offset": 30, "anchor": "middle"}
  }
}
